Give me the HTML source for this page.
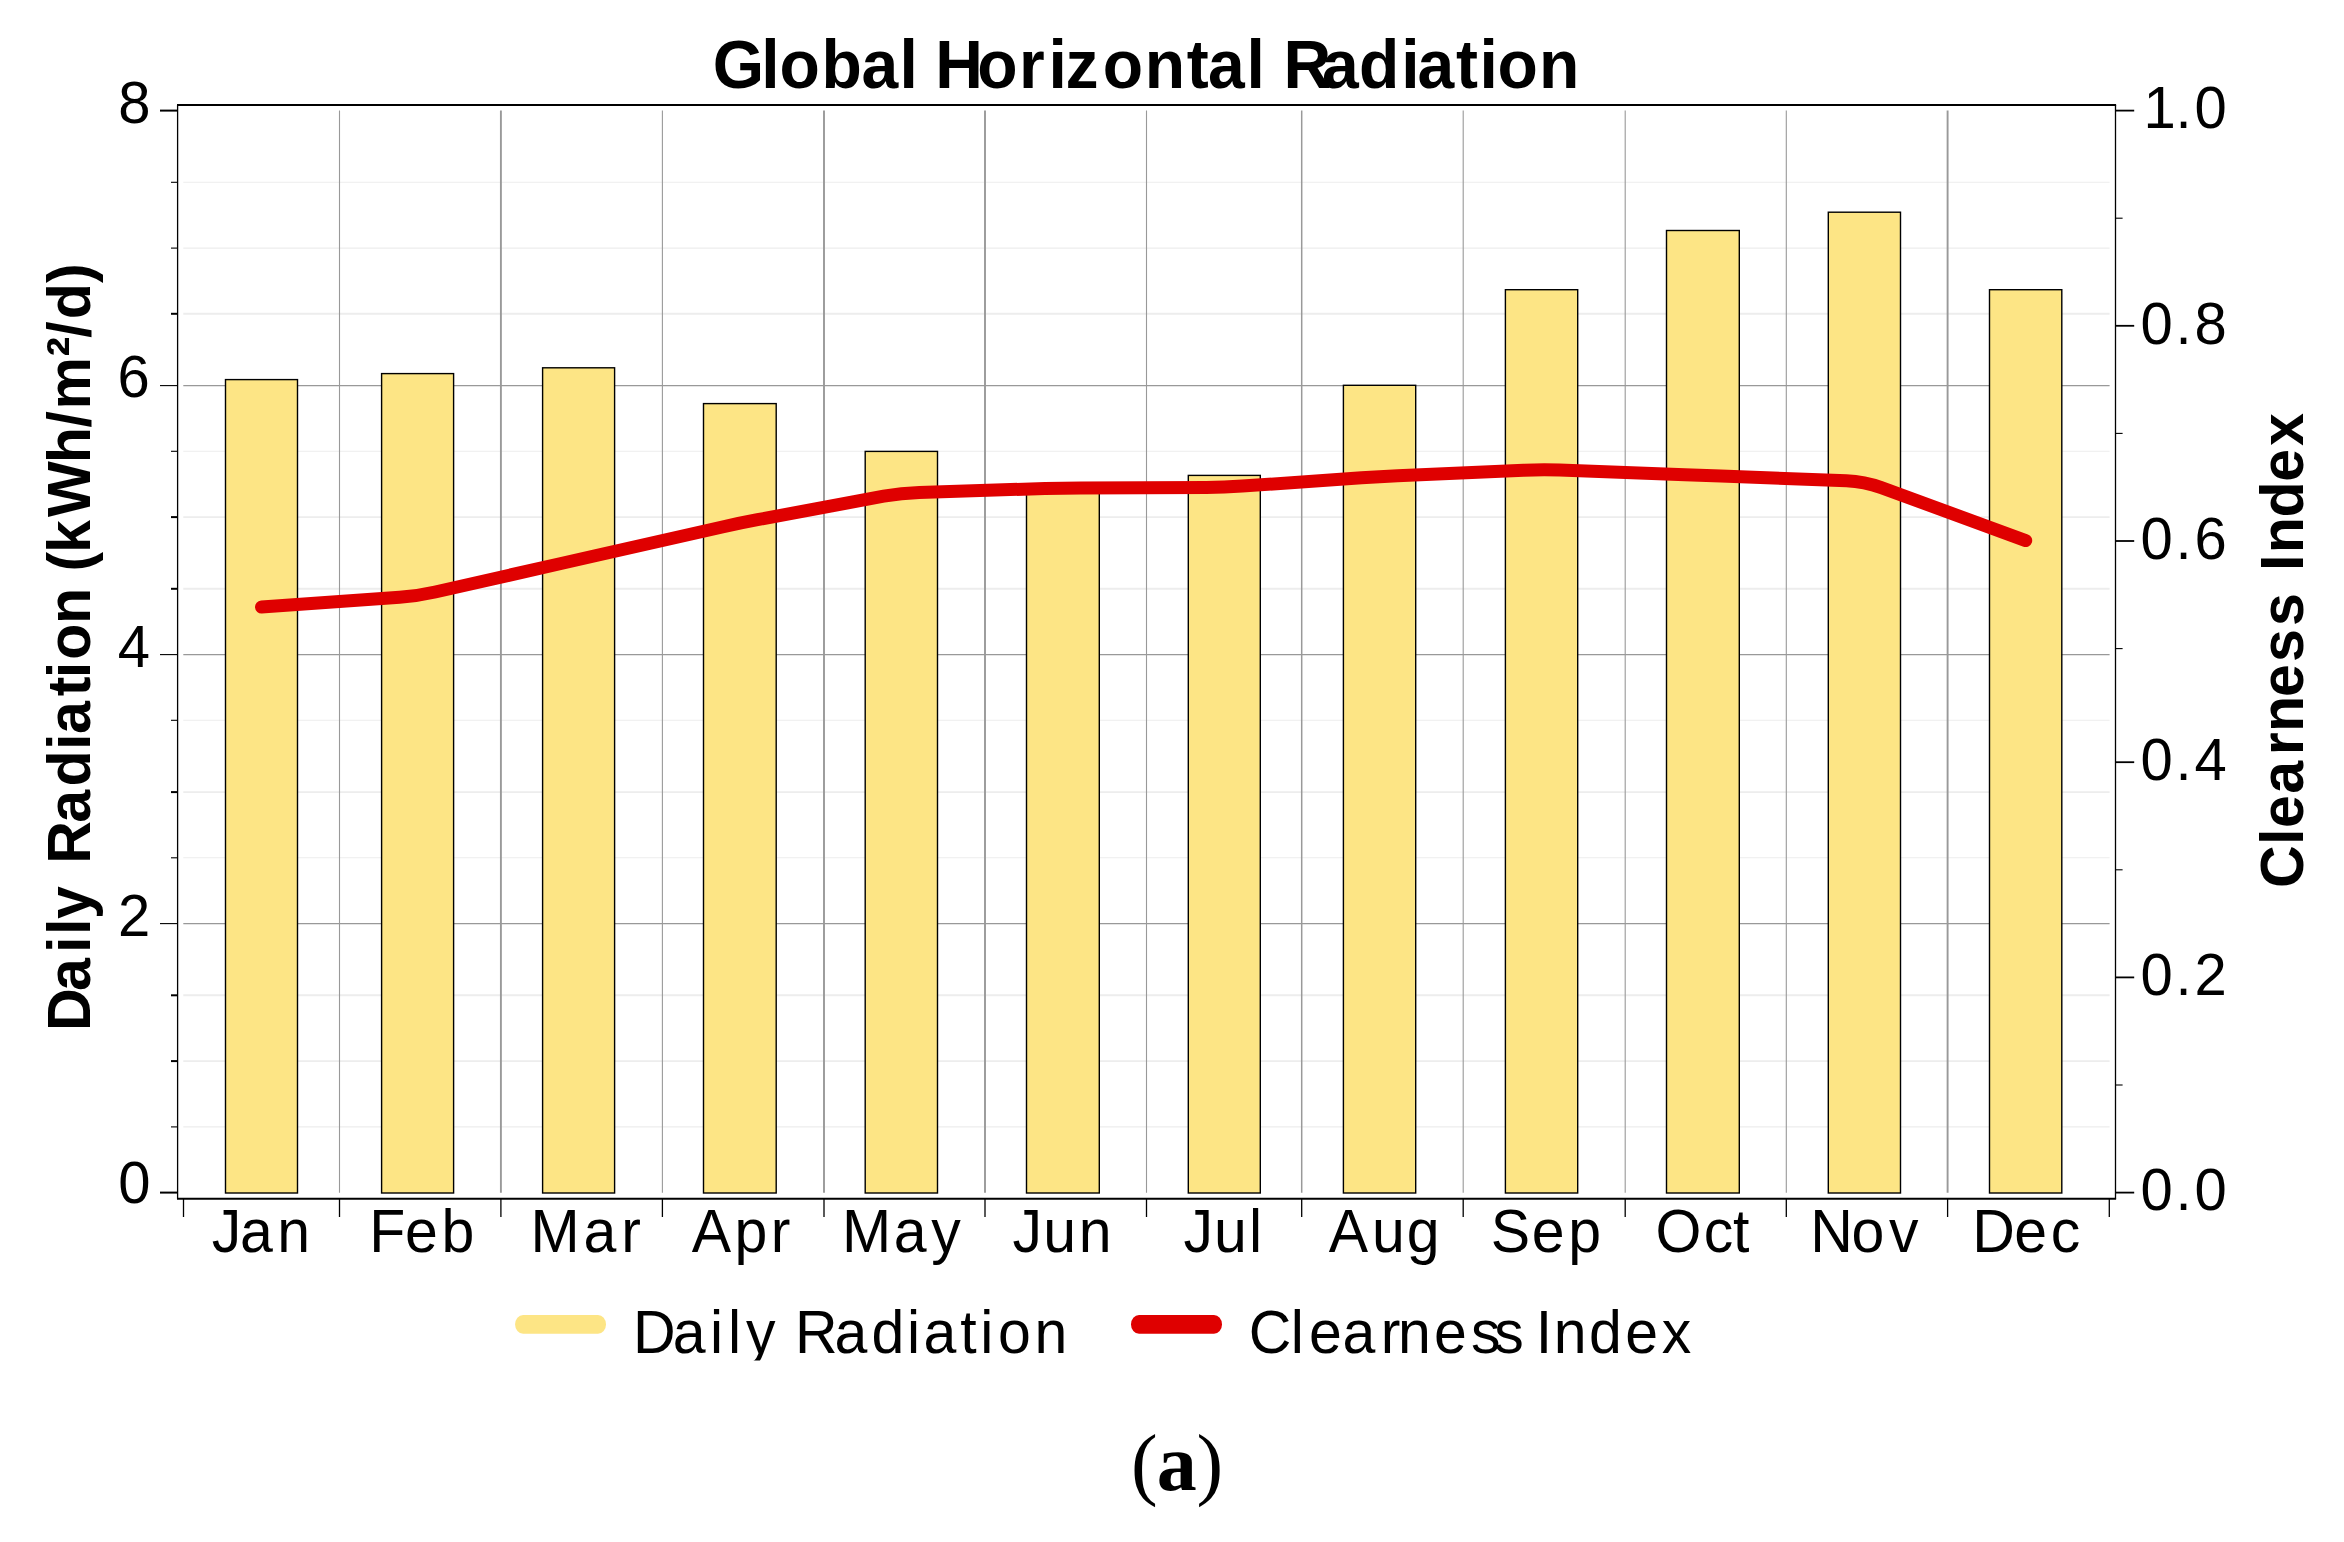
<!DOCTYPE html>
<html lang="en"><head><meta charset="utf-8"><title>Global Horizontal Radiation</title>
<style>
html,body{margin:0;padding:0;background:#fff;}
body{width:2344px;height:1542px;overflow:hidden;}
svg{display:block;}
text{font-family:"Liberation Sans",Arial,sans-serif;fill:#000;white-space:pre;}
.b{font-weight:bold;}
.s{font-family:"Liberation Serif","Times New Roman",serif;}
</style></head><body>
<svg width="2344" height="1542" viewBox="0 0 2344 1542">
<rect x="0" y="0" width="2344" height="1542" fill="#fff"/>
<g stroke="#ededed">
<line x1="183.3" y1="182.3" x2="2109.6" y2="182.3" stroke-width="1.1"/>
<line x1="183.3" y1="248.1" x2="2109.6" y2="248.1" stroke-width="1.1"/>
<line x1="183.3" y1="313.8" x2="2109.6" y2="313.8" stroke-width="1.9"/>
<line x1="183.3" y1="451.3" x2="2109.6" y2="451.3" stroke-width="1.1"/>
<line x1="183.3" y1="517.1" x2="2109.6" y2="517.1" stroke-width="1.9"/>
<line x1="183.3" y1="588.8" x2="2109.6" y2="588.8" stroke-width="1.9"/>
<line x1="183.3" y1="720.3" x2="2109.6" y2="720.3" stroke-width="1.1"/>
<line x1="183.3" y1="792.1" x2="2109.6" y2="792.1" stroke-width="1.9"/>
<line x1="183.3" y1="857.8" x2="2109.6" y2="857.8" stroke-width="1.1"/>
<line x1="183.3" y1="995.3" x2="2109.6" y2="995.3" stroke-width="1.9"/>
<line x1="183.3" y1="1061.1" x2="2109.6" y2="1061.1" stroke-width="1.9"/>
<line x1="183.3" y1="1126.9" x2="2109.6" y2="1126.9" stroke-width="1.1"/>
</g>
<g stroke="#999999" stroke-width="1.2">
<line x1="183.3" y1="385.6" x2="2109.6" y2="385.6"/>
<line x1="183.3" y1="654.6" x2="2109.6" y2="654.6"/>
<line x1="183.3" y1="923.6" x2="2109.6" y2="923.6"/>
<line x1="339.5" y1="110.5" x2="339.5" y2="1192.7" stroke-width="1.1"/>
<line x1="500.9" y1="110.5" x2="500.9" y2="1192.7" stroke-width="1.9"/>
<line x1="662.4" y1="110.5" x2="662.4" y2="1192.7" stroke-width="1.1"/>
<line x1="824.0" y1="110.5" x2="824.0" y2="1192.7" stroke-width="1.9"/>
<line x1="985.0" y1="110.5" x2="985.0" y2="1192.7" stroke-width="1.9"/>
<line x1="1146.5" y1="110.5" x2="1146.5" y2="1192.7" stroke-width="1.1"/>
<line x1="1301.7" y1="110.5" x2="1301.7" y2="1192.7" stroke-width="1.5"/>
<line x1="1463.2" y1="110.5" x2="1463.2" y2="1192.7" stroke-width="1.1"/>
<line x1="1625.2" y1="110.5" x2="1625.2" y2="1192.7" stroke-width="1.1"/>
<line x1="1786.3" y1="110.5" x2="1786.3" y2="1192.7" stroke-width="1.1"/>
<line x1="1947.6" y1="110.5" x2="1947.6" y2="1192.7" stroke-width="1.9"/>
</g>
<g fill="#FDE585" stroke="#000" stroke-width="1.4">
<rect x="225.5" y="379.6" width="72.0" height="813.4"/>
<rect x="381.6" y="373.6" width="72.0" height="819.4"/>
<rect x="542.6" y="367.8" width="72.0" height="825.2"/>
<rect x="703.5" y="403.6" width="72.7" height="789.4"/>
<rect x="865.2" y="451.4" width="72.3" height="741.6"/>
<rect x="1026.5" y="487.4" width="72.8" height="705.6"/>
<rect x="1188.3" y="475.4" width="72.0" height="717.6"/>
<rect x="1343.4" y="385.3" width="72.3" height="807.7"/>
<rect x="1505.4" y="289.7" width="72.3" height="903.3"/>
<rect x="1666.5" y="230.5" width="72.8" height="962.5"/>
<rect x="1828.3" y="212.2" width="72.2" height="980.8"/>
<rect x="1989.5" y="289.7" width="72.3" height="903.3"/>
</g>
<path d="M261.5,607.0 L399.6,597.3 Q417.6,596.0 435.2,592.0 L561.0,563.5 Q578.6,559.5 596.2,555.5 L722.3,527.0 Q739.9,523.0 757.5,519.7 L883.7,496.2 Q901.4,492.9 919.3,492.4 L1044.9,488.5 Q1062.9,488.0 1080.9,487.9 L1206.3,487.5 Q1224.3,487.4 1242.3,486.1 L1361.6,477.8 Q1379.6,476.5 1397.5,475.7 L1523.6,470.3 Q1541.6,469.5 1559.5,470.1 L1684.9,474.7 Q1702.9,475.3 1720.9,476.0 L1846.4,480.7 Q1864.4,481.4 1881.3,487.6 L2025.7,540.6" fill="none" stroke="#DF0000" stroke-width="13" stroke-linecap="round" stroke-linejoin="round"/>
<g stroke="#000" fill="none">
<line x1="177.0" y1="105.0" x2="2116.1" y2="105.0" stroke-width="2"/>
<line x1="177.0" y1="1198.8" x2="2116.1" y2="1198.8" stroke-width="2"/>
<line x1="177.6" y1="105.0" x2="177.6" y2="1198.8" stroke-width="1.3"/>
<line x1="2115.5" y1="105.0" x2="2115.5" y2="1198.8" stroke-width="1.3"/>
<line x1="160" y1="110.6" x2="177.6" y2="110.6" stroke-width="2.0"/>
<line x1="171" y1="182.3" x2="177.6" y2="182.3" stroke-width="1.1"/>
<line x1="171" y1="248.1" x2="177.6" y2="248.1" stroke-width="1.1"/>
<line x1="171" y1="313.8" x2="177.6" y2="313.8" stroke-width="2.0"/>
<line x1="160" y1="385.6" x2="177.6" y2="385.6" stroke-width="1.1"/>
<line x1="171" y1="451.3" x2="177.6" y2="451.3" stroke-width="1.1"/>
<line x1="171" y1="517.1" x2="177.6" y2="517.1" stroke-width="2.0"/>
<line x1="171" y1="588.8" x2="177.6" y2="588.8" stroke-width="2.0"/>
<line x1="160" y1="654.6" x2="177.6" y2="654.6" stroke-width="1.1"/>
<line x1="171" y1="720.3" x2="177.6" y2="720.3" stroke-width="1.1"/>
<line x1="171" y1="792.1" x2="177.6" y2="792.1" stroke-width="2.0"/>
<line x1="171" y1="857.8" x2="177.6" y2="857.8" stroke-width="1.1"/>
<line x1="160" y1="923.6" x2="177.6" y2="923.6" stroke-width="1.1"/>
<line x1="171" y1="995.3" x2="177.6" y2="995.3" stroke-width="2.0"/>
<line x1="171" y1="1061.1" x2="177.6" y2="1061.1" stroke-width="2.0"/>
<line x1="171" y1="1126.9" x2="177.6" y2="1126.9" stroke-width="1.1"/>
<line x1="160" y1="1192.6" x2="177.6" y2="1192.6" stroke-width="2.0"/>
<line x1="2115.5" y1="110.6" x2="2134.2" y2="110.6" stroke-width="1.8"/>
<line x1="2115.5" y1="218.2" x2="2122.6" y2="218.2" stroke-width="1.1"/>
<line x1="2115.5" y1="325.8" x2="2134.2" y2="325.8" stroke-width="1.8"/>
<line x1="2115.5" y1="433.4" x2="2122.6" y2="433.4" stroke-width="1.1"/>
<line x1="2115.5" y1="541.0" x2="2134.2" y2="541.0" stroke-width="1.8"/>
<line x1="2115.5" y1="648.6" x2="2122.6" y2="648.6" stroke-width="1.1"/>
<line x1="2115.5" y1="762.2" x2="2134.2" y2="762.2" stroke-width="1.8"/>
<line x1="2115.5" y1="869.8" x2="2122.6" y2="869.8" stroke-width="1.1"/>
<line x1="2115.5" y1="977.4" x2="2134.2" y2="977.4" stroke-width="1.8"/>
<line x1="2115.5" y1="1085.0" x2="2122.6" y2="1085.0" stroke-width="1.1"/>
<line x1="2115.5" y1="1192.6" x2="2134.2" y2="1192.6" stroke-width="1.8"/>
<line x1="183.5" y1="1198.8" x2="183.5" y2="1217" stroke-width="1.3"/>
<line x1="339.5" y1="1198.8" x2="339.5" y2="1217" stroke-width="1.3"/>
<line x1="500.9" y1="1198.8" x2="500.9" y2="1217" stroke-width="1.3"/>
<line x1="662.4" y1="1198.8" x2="662.4" y2="1217" stroke-width="1.3"/>
<line x1="824.0" y1="1198.8" x2="824.0" y2="1217" stroke-width="1.3"/>
<line x1="985.0" y1="1198.8" x2="985.0" y2="1217" stroke-width="1.3"/>
<line x1="1146.5" y1="1198.8" x2="1146.5" y2="1217" stroke-width="1.3"/>
<line x1="1301.7" y1="1198.8" x2="1301.7" y2="1217" stroke-width="1.3"/>
<line x1="1463.2" y1="1198.8" x2="1463.2" y2="1217" stroke-width="1.3"/>
<line x1="1625.2" y1="1198.8" x2="1625.2" y2="1217" stroke-width="1.3"/>
<line x1="1786.3" y1="1198.8" x2="1786.3" y2="1217" stroke-width="1.3"/>
<line x1="1947.6" y1="1198.8" x2="1947.6" y2="1217" stroke-width="1.3"/>
<line x1="2109.3" y1="1198.8" x2="2109.3" y2="1217" stroke-width="1.3"/>
</g>
<text class="b" transform="translate(0,87.8) scale(1,1.04)" font-size="66" x="712.8 761.2 779.4 821.5 861.5 899.4 917.7 935.2 977.3 1019.1 1048.5 1065.6 1102.7 1144.8 1186.7 1208.1 1246.5 1264.8 1283.6 1321.9 1358.9 1401.2 1417.4 1456.1 1479.5 1497.4 1539.0" y="0">Global Horizontal Radiation</text>
<text transform="translate(0,1252.3) scale(1,1.03)" font-size="59" x="211.8 239.9 277.3" y="0">Jan</text>
<text transform="translate(0,1252.3) scale(1,1.03)" font-size="59" x="369.3 404.9 441.5" y="0">Feb</text>
<text transform="translate(0,1252.3) scale(1,1.03)" font-size="59" x="530.6 583.4 621.3" y="0">Mar</text>
<text transform="translate(0,1252.3) scale(1,1.03)" font-size="59" x="691.7 734.4 770.8" y="0">Apr</text>
<text transform="translate(0,1252.3) scale(1,1.03)" font-size="59" x="842.0 893.7 931.2" y="0">May</text>
<text transform="translate(0,1252.3) scale(1,1.03)" font-size="59" x="1012.6 1043.2 1078.7" y="0">Jun</text>
<text transform="translate(0,1252.3) scale(1,1.03)" font-size="59" x="1183.6 1214.1 1248.9" y="0">Jul</text>
<text transform="translate(0,1252.3) scale(1,1.03)" font-size="59" x="1328.7 1372.1 1406.7" y="0">Aug</text>
<text transform="translate(0,1252.3) scale(1,1.03)" font-size="59" x="1490.8 1531.7 1568.3" y="0">Sep</text>
<text transform="translate(0,1252.3) scale(1,1.03)" font-size="59" x="1655.5 1703.8 1732.9" y="0">Oct</text>
<text transform="translate(0,1252.3) scale(1,1.03)" font-size="59" x="1810.2 1851.5 1888.9" y="0">Nov</text>
<text transform="translate(0,1252.3) scale(1,1.03)" font-size="59" x="1972.2 2014.3 2050.7" y="0">Dec</text>
<text transform="translate(0,122.6) scale(1,1.02)" font-size="58" x="118.2" y="0">8</text>
<text transform="translate(0,397.1) scale(1,1.02)" font-size="58" x="117.5" y="0">6</text>
<text transform="translate(0,666.7) scale(1,1.02)" font-size="58" x="117.7" y="0">4</text>
<text transform="translate(0,935.8) scale(1,1.02)" font-size="58" x="118.0" y="0">2</text>
<text transform="translate(0,1203.3) scale(1,1.02)" font-size="58" x="118.3" y="0">0</text>
<text transform="translate(0,128.3) scale(1,1.02)" font-size="58" x="2143.6 2175.5 2194.4" y="0">1.0</text>
<text transform="translate(0,343.5) scale(1,1.02)" font-size="58" x="2140.6 2175.5 2194.4" y="0">0.8</text>
<text transform="translate(0,558.7) scale(1,1.02)" font-size="58" x="2140.6 2175.5 2194.4" y="0">0.6</text>
<text transform="translate(0,779.9) scale(1,1.02)" font-size="58" x="2140.6 2175.5 2194.4" y="0">0.4</text>
<text transform="translate(0,995.1) scale(1,1.02)" font-size="58" x="2140.6 2175.5 2194.4" y="0">0.2</text>
<text transform="translate(0,1210.3) scale(1,1.02)" font-size="58" x="2140.6 2175.5 2194.4" y="0">0.0</text>
<text class="b" transform="translate(90.1,1100.0) rotate(-90) scale(1,1.03)" font-size="59" x="69.0 108.9 146.9 164.9 181.0 213.8 236.3 277.2 313.6 349.9 366.1 403.7 421.8 440.2 476.1 512.1 528.4 547.0 582.9 636.7 672.4 690.6 743.5 762.2 780.7 817.0" y="0">Daily Radiation (kWh/m²/d)</text>
<text class="b" transform="translate(2303.2,1100.0) rotate(-90) scale(1,1.03)" font-size="59" x="212.1 254.9 271.9 306.2 344.7 367.9 403.1 438.0 474.1 506.9 528.9 546.7 582.5 618.2 654.1" y="0">Clearness Index</text>
<rect x="515.1" y="1314.9" width="90.9" height="18.9" rx="8" ry="9.4" fill="#FDE585"/>
<rect x="1131" y="1314.9" width="91" height="18.9" rx="8" ry="9.4" fill="#DF0000"/>
<clipPath id="lc"><rect x="600" y="1280" width="1200" height="80.6"/></clipPath><g clip-path="url(#lc)">
<text transform="translate(0,1353.2) scale(1,1.03)" font-size="59" x="633.0 672.8 710.1 727.9 745.9 775.4 795.1 834.6 871.4 906.9 923.5 960.3 980.3 998.0 1034.4" y="0">Daily Radiation</text>
<text transform="translate(0,1353.2) scale(1,1.03)" font-size="59" x="1248.8 1290.8 1309.0 1342.5 1380.8 1397.9 1434.1 1471.0 1494.3 1523.8 1535.7 1553.7 1589.1 1625.2 1661.7" y="0">Clearness Index</text>
</g>
<text class="s" x="1131.1 1156.8 1196.5" y="1489.8" font-size="80">(<tspan font-weight="bold">a</tspan>)</text>
</svg></body></html>
